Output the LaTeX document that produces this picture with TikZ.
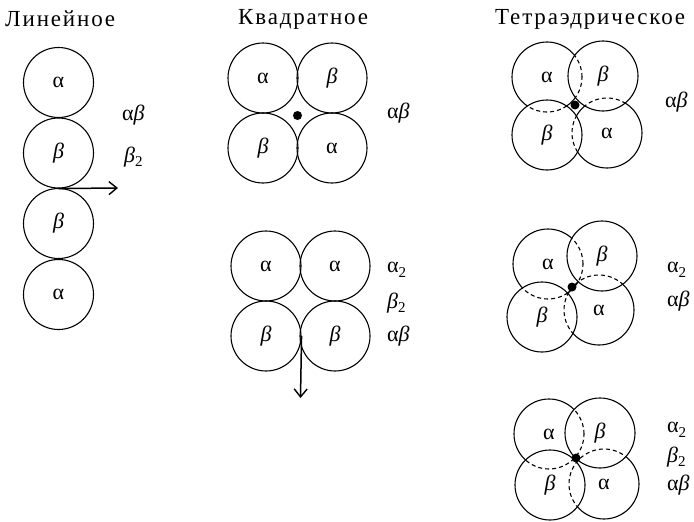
\documentclass[tikz,border=0pt]{standalone}
\usepackage{fontspec}
\usetikzlibrary{arrows.meta}
\setmainfont{Liberation Serif}
\newfontfamily\ttlfont[LetterSpace=8]{Liberation Serif}
\newcommand\bet{\textit{β}}
\newcommand\subtwo{\raisebox{-0.45ex}{\fontsize{15}{15}\selectfont 2}}
\begin{document}
\begin{tikzpicture}[x=1pt,y=-1pt,
  ball/.style={circle, draw, line width=1.1pt, minimum size=70pt, inner sep=0pt, font=\fontsize{22}{22}\selectfont},
  front/.style={ball, fill=white},
  hidden/.style={line width=1.1pt, dash pattern=on 4pt off 3pt},
  lbl/.style={font=\fontsize{22}{22}\selectfont, anchor=west, inner sep=0pt},
  ttl/.style={font=\ttlfont\fontsize{23}{23}\selectfont, anchor=west, inner sep=0pt},
  arr/.style={-{Straight Barb[length=8pt,width=13pt,line width=1.4pt]}, line width=1.5pt},
  dotc/.style={circle, fill, inner sep=0pt, minimum size=9pt}]
\useasboundingbox (0,0) rectangle (694,522);
% titles
\node[ttl] (t1) at (5,19) {Линейное};
\node[ttl] (t2) at (238,19) {Квадратное};
\node[ttl] (t3) at (495,19) {Тетраэдрическое};
% linear
\node[ball] (l1) at (58.5,82.5) {α};
\node[ball] (l2) at (58.5,153) {\bet};
\node[ball] (l3) at (58.5,223.5) {\bet};
\node[ball] (l4) at (58.5,294.5) {α};
\coordinate (la) at (118,188);
\draw[arr] (l2.south) -- (la);
\node[lbl] (lt1) at (122,115) {α\bet};
\node[lbl] (lt2) at (124,157) {\bet\subtwo};
% square top
\node[ball] (s1) at (263,78) {α};
\node[ball] (s2) at (332,78) {\bet};
\node[ball] (s3) at (263,148) {\bet};
\node[ball] (s4) at (332,148) {α};
\node[dotc] (sd) at (297.5,115.5) {};
\node[lbl] (st1) at (387,113) {α\bet};
% square bottom
\node[ball] (q1) at (266,266) {α};
\node[ball] (q2) at (335,266) {α};
\node[ball] (q3) at (266,336) {\bet};
\node[ball] (q4) at (335,336) {\bet};
\coordinate (qa) at (300.5,398);
\draw[arr] (q3.east) -- (qa);
\node[lbl] (qt1) at (387,270) {α\subtwo};
\node[lbl] (qt2) at (387,303) {\bet\subtwo};
\node[lbl] (qt3) at (387,336) {α\bet};
% tetra top
\node[ball] (a1) at (547,77) {α};
\node[ball] (a4) at (607,133) {α};
\node[front] (a2) at (603,76) {\bet};
\node[front] (a3) at (547,135) {\bet};
\begin{scope}
\clip (a2.center) circle[radius=35pt] (a3.center) circle[radius=35pt];
\draw[hidden] (a1.center) circle[radius=35pt] (a4.center) circle[radius=35pt];
\end{scope}
\node[dotc] (ad) at (575,105) {};
\node[lbl] (at1) at (665,102) {α\bet};
% tetra middle
\node[ball] (b1) at (548,264) {α};
\node[ball] (b4) at (599,310) {α};
\node[front] (b2) at (602,256) {\bet};
\node[front] (b3) at (542,317) {\bet};
\begin{scope}
\clip (b2.center) circle[radius=35pt] (b3.center) circle[radius=35pt];
\draw[hidden] (b1.center) circle[radius=35pt] (b4.center) circle[radius=35pt];
\end{scope}
\node[dotc] (bd) at (572,287) {};
\node[lbl] (bt1) at (667,270) {α\subtwo};
\node[lbl] (bt2) at (667,301) {α\bet};
% tetra bottom
\node[ball] (c1) at (549,434) {α};
\node[ball] (c4) at (604,484) {α};
\node[front] (c2) at (600,433) {\bet};
\node[front] (c3) at (550,485) {\bet};
\begin{scope}
\clip (c2.center) circle[radius=35pt] (c3.center) circle[radius=35pt];
\draw[hidden] (c1.center) circle[radius=35pt] (c4.center) circle[radius=35pt];
\end{scope}
\node[dotc] (cd) at (576,458) {};
\node[lbl] (ct1) at (667,430) {α\subtwo};
\node[lbl] (ct2) at (667,457) {\bet\subtwo};
\node[lbl] (ct3) at (667,485) {α\bet};
\end{tikzpicture}
\end{document}
